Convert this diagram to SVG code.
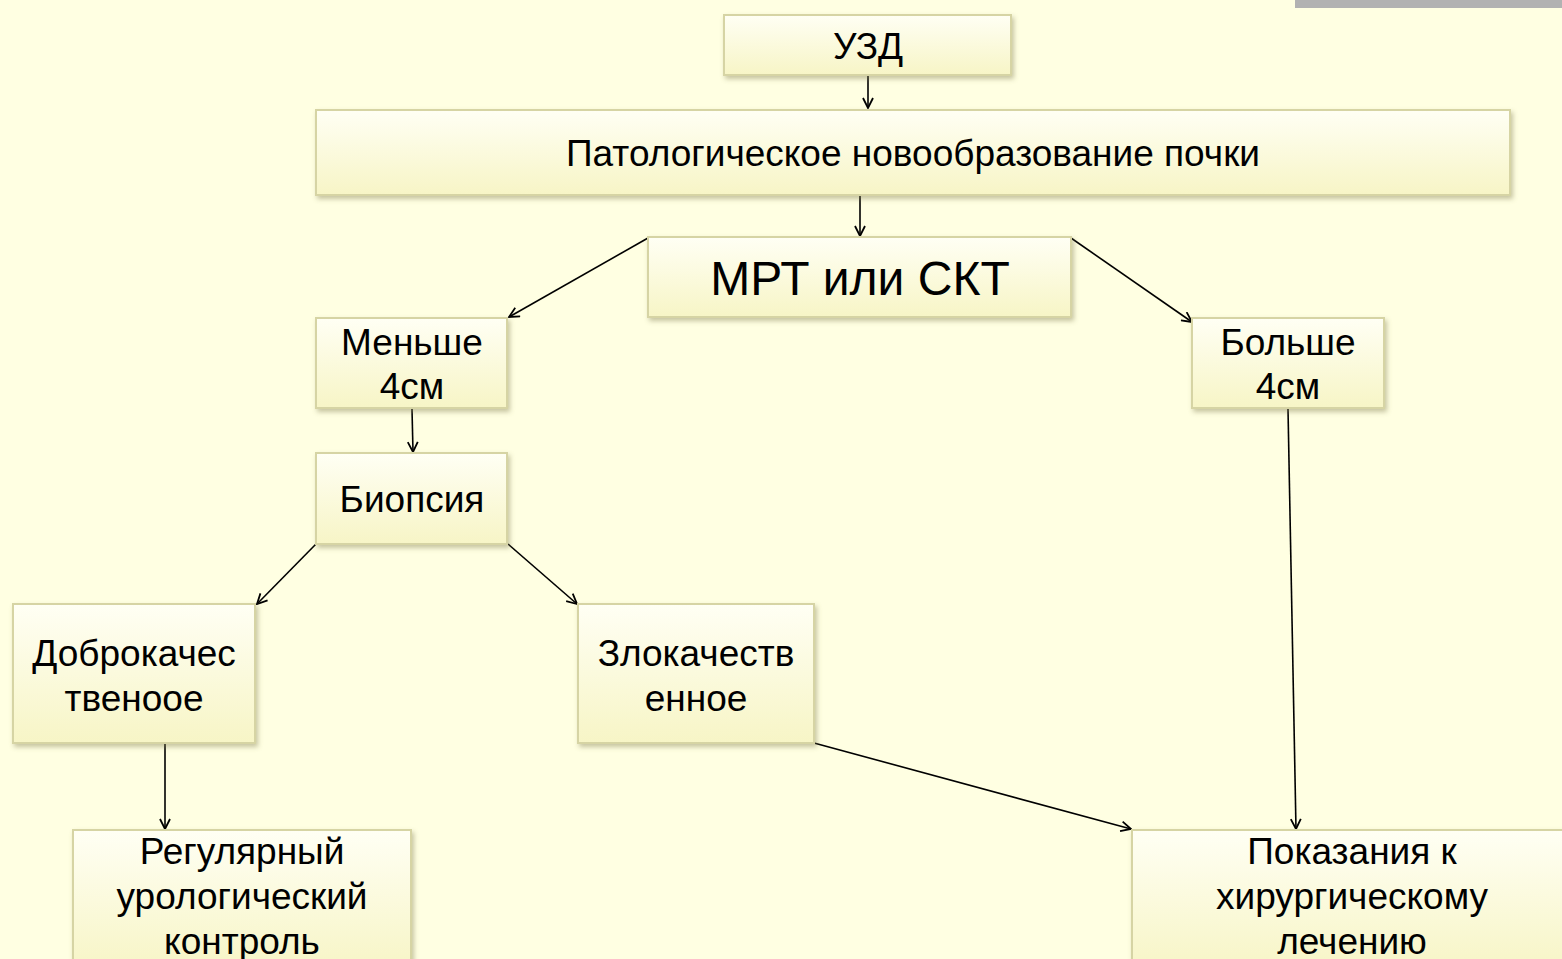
<svg xmlns="http://www.w3.org/2000/svg" width="1562" height="959" viewBox="0 0 1562 959">
<style>
.box{fill:url(#g);stroke:#D6D4A4;stroke-width:2;filter:url(#sh)}
.t{font-family:"Liberation Sans",Arial,sans-serif;font-size:37px;fill:#000;text-anchor:middle}
.c{stroke:#000;stroke-width:1.6;fill:none;marker-end:url(#ar)}
</style>
<defs>
<linearGradient id="g" x1="0" y1="0" x2="0" y2="1">
<stop offset="0" stop-color="#FFFFF4"/>
<stop offset="1" stop-color="#F7F5C6"/>
</linearGradient>
<filter id="sh" x="-10%" y="-10%" width="130%" height="140%">
<feDropShadow dx="2" dy="3" stdDeviation="2.5" flood-color="#807a50" flood-opacity="0.45"/>
</filter>
<marker id="ar" viewBox="0 0 12 12" refX="11" refY="6" markerWidth="12" markerHeight="12" markerUnits="userSpaceOnUse" orient="auto">
<path d="M1,1 L11,6 L1,11" fill="none" stroke="#000" stroke-width="1.8"/>
</marker>
</defs>
<rect x="0" y="0" width="1562" height="959" fill="#FFFFE2"/>
<rect x="1295" y="0" width="267" height="8" fill="#B2B2B2"/>
<g id="connectors">
<line class="c" x1="868" y1="76" x2="868" y2="108"/>
<line class="c" x1="860" y1="196" x2="860" y2="236"/>
<line class="c" x1="648" y1="238" x2="509" y2="317"/>
<line class="c" x1="1071" y1="238" x2="1192" y2="322"/>
<line class="c" x1="412" y1="409" x2="413" y2="452"/>
<line class="c" x1="316" y1="544" x2="257" y2="604"/>
<line class="c" x1="508" y1="544" x2="577" y2="604"/>
<line class="c" x1="165" y1="744" x2="165" y2="829"/>
<line class="c" x1="814" y1="743" x2="1131" y2="829"/>
<line class="c" x1="1288" y1="409" x2="1296" y2="829"/>
</g>
<g id="uzd"><rect class="box" x="724" y="15" width="287" height="60"/><text class="t" x="868" y="59">УЗД</text></g>
<g id="pathology"><rect class="box" x="316" y="110" width="1194" height="85"/><text class="t" x="913" y="166">Патологическое новообразование почки</text></g>
<g id="mrt"><rect class="box" x="648" y="237" width="423" height="80"/><text class="t" x="860" y="295" style="font-size:48px">МРТ или СКТ</text></g>
<g id="less4"><rect class="box" x="316" y="318" width="191" height="90"/><text class="t" x="412" y="355">Меньше</text><text class="t" x="412" y="399">4см</text></g>
<g id="more4"><rect class="box" x="1192" y="318" width="192" height="90"/><text class="t" x="1288" y="355">Больше</text><text class="t" x="1288" y="399">4см</text></g>
<g id="biopsy"><rect class="box" x="316" y="453" width="191" height="91"/><text class="t" x="412" y="512">Биопсия</text></g>
<g id="benign"><rect class="box" x="13" y="604" width="242" height="139"/><text class="t" x="134" y="666">Доброкачес</text><text class="t" x="134" y="711">твеноое</text></g>
<g id="malignant"><rect class="box" x="578" y="604" width="236" height="139"/><text class="t" x="696" y="666">Злокачеств</text><text class="t" x="696" y="711">енное</text></g>
<g id="control"><rect class="box" x="73" y="830" width="338" height="140"/><text class="t" x="242" y="864">Регулярный</text><text class="t" x="242" y="909">урологический</text><text class="t" x="242" y="954">контроль</text></g>
<g id="surgery"><rect class="box" x="1132" y="830" width="440" height="140"/><text class="t" x="1352" y="864">Показания к</text><text class="t" x="1352" y="909">хирургическому</text><text class="t" x="1352" y="954">лечению</text></g>
</svg>
